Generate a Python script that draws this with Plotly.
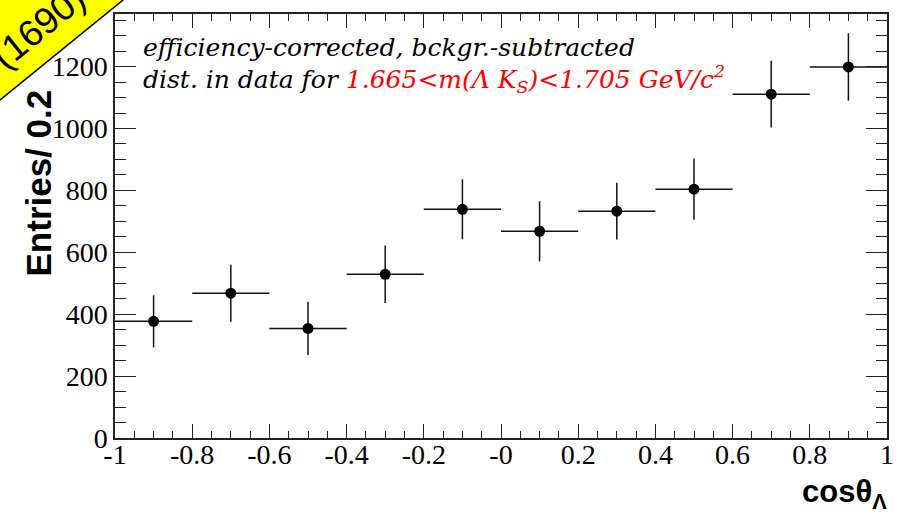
import plotly.graph_objects as go

# ---- data ----
bin_centers = [-0.9, -0.7, -0.5, -0.3, -0.1, 0.1, 0.3, 0.5, 0.7, 0.9]
entries = [377, 468, 354, 529, 739, 668, 733, 804, 1111, 1199]
entries_err = [84, 92, 86, 93, 97, 97, 92, 99, 108, 109]
bin_half_width = [0.1] * 10
x_tick_vals = [-1, -0.8, -0.6, -0.4, -0.2, 0, 0.2, 0.4, 0.6, 0.8, 1]
x_tick_text = ["-1", "-0.8", "-0.6", "-0.4", "-0.2", "-0", "0.2", "0.4", "0.6", "0.8", "1"]
y_tick_vals = [0, 200, 400, 600, 800, 1000, 1200]
y_tick_text = ["0", "200", "400", "600", "800", "1000", "1200"]

W, H = 904, 519
L, R, T, B = 115, 17, 14, 81
PW, PH = W - L - R, H - T - B


def px(xp):
    return (xp - L) / PW


def py(yp):
    return (H - B - yp) / PH


SERIF = "'Liberation Serif', serif"
SERIF_IT = "'DejaVu Serif', serif"
SANS = "'Liberation Sans', Arial, sans-serif"

fig = go.Figure()
fig.add_trace(go.Scatter(
    x=bin_centers, y=entries, mode="markers",
    marker=dict(color="black", size=11, symbol="circle"),
    error_y=dict(type="data", array=entries_err, visible=True, width=0,
                 thickness=1.5, color="#111111"),
    error_x=dict(type="data", array=bin_half_width, visible=True, width=0,
                 thickness=1.5, color="#111111"),
    showlegend=False, cliponaxis=False,
))

tickfont = dict(family=SERIF, size=28, color="black")
fig.update_xaxes(
    range=[-1, 1], tickmode="array", tickvals=x_tick_vals, ticktext=x_tick_text,
    ticks="inside", ticklen=14, tickwidth=1.2, tickcolor="#222222",
    minor=dict(dtick=0.05, ticks="inside", ticklen=7, tickwidth=1.2, tickcolor="#222222"),
    showline=True, linecolor="#222222", linewidth=1.5, mirror="ticks",
    showgrid=False, zeroline=False, tickfont=tickfont,
)
try:
    fig.update_xaxes(ticklabelstandoff=-9)
except Exception:
    pass
fig.update_yaxes(
    range=[0, 1370], tickmode="array", tickvals=y_tick_vals, ticktext=y_tick_text,
    ticks="inside", ticklen=21, tickwidth=1.2, tickcolor="#222222",
    minor=dict(dtick=50, ticks="inside", ticklen=11, tickwidth=1.2, tickcolor="#222222"),
    showline=True, linecolor="#222222", linewidth=1.5, mirror="ticks",
    showgrid=False, zeroline=False, tickfont=tickfont,
)

annotations = [
    # y title
    dict(text="<b>Entries/ 0.2</b>", xref="paper", yref="paper",
         x=px(38), y=py(88), xanchor="center", yanchor="top", textangle=-90,
         showarrow=False, font=dict(family=SANS, size=35, color="black")),
    # x title
    dict(text="<b>cosθ<sub>Λ</sub></b>", xref="paper", yref="paper",
         x=px(889), y=py(494), xanchor="right", yanchor="middle",
         showarrow=False, font=dict(family=SANS, size=31, color="black")),
    # info text
    dict(text="<i>efficiency-corrected, bckgr.-subtracted</i>", xref="paper", yref="paper",
         x=px(141), y=py(47), xanchor="left", yanchor="middle", showarrow=False,
         font=dict(family=SERIF_IT, size=25, color="black")),
    dict(text="<i>dist. in data for <span style='color:#ff0000'>1.665&lt;m(Λ K<sub>S</sub>)&lt;1.705 GeV/c<sup>2</sup></span></i>",
         xref="paper", yref="paper",
         x=px(141), y=py(79), xanchor="left", yanchor="middle", showarrow=False,
         font=dict(family=SERIF_IT, size=25, color="black")),
    # banner
    dict(text="(1690)", xref="paper", yref="paper",
         x=px(38), y=py(27), xanchor="center", yanchor="middle", textangle=-39,
         showarrow=False, font=dict(family=SANS, size=37, color="black")),
]

shapes = [
    dict(type="path", xref="paper", yref="paper",
         path=f"M {px(-5)},{py(-5)} L {px(129.2)},{py(-5)} L {px(-5)},{py(104.1)} Z",
         fillcolor="#ffff00", line=dict(color="black", width=1.5), layer="above"),
]

fig.update_layout(
    width=W, height=H, margin=dict(l=L, r=R, t=T, b=B, autoexpand=False),
    paper_bgcolor="white", plot_bgcolor="white",
    annotations=annotations, shapes=shapes,
)

fig.write_html("out.html")
